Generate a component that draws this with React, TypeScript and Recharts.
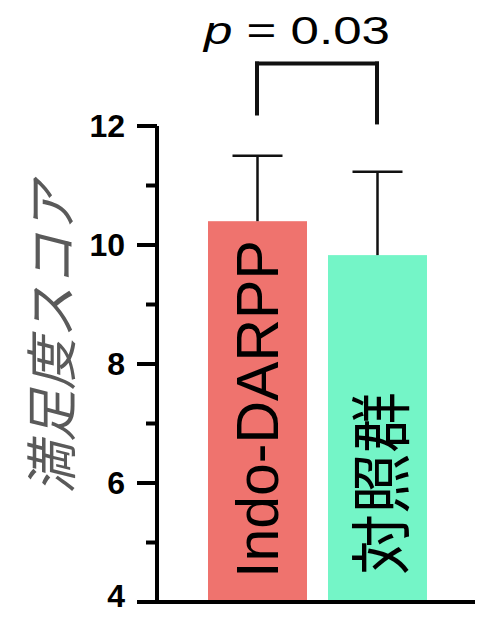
import React from "react";
import { BarChart, Bar, XAxis, YAxis, Cell, ReferenceLine } from "recharts";

// 満足度スコア (mean ± SD)
const groups = ["Indo-DARPP", "対照群"];
const means = [10.4, 9.83];
const sds = [1.1, 1.4];
const barColors = ["#EF736E", "#74F5C7"];

const yTicks = [4, 5, 6, 7, 8, 9, 10, 11, 12];
const majorTicks = [4, 6, 8, 10, 12];
const Y_MIN = 4;
const Y_MAX = 12;

// bracket over the two bars
const bracketTop = 13.05;
const bracketLegs = [12.21, 12.06];
const pLabel = "0.03";

const data = groups.map((name, i) => ({ name, mean: means[i], sd: sds[i] }));

const TICK_SIZE = 20;
const TICK_MARGIN = 10;

const AxisTick = (props: any) => {
  const { x, y, payload } = props;
  const major = majorTicks.includes(payload.value);
  const axisX = x + TICK_MARGIN + TICK_SIZE;
  // bottom label sits a little higher so it stays inside the frame
  const labelY = payload.value === Y_MIN ? y - 6 : y;
  return (
    <g>
      <line
        x1={major ? axisX - TICK_SIZE : axisX - 11}
        x2={axisX}
        y1={y}
        y2={y}
        stroke="#000"
        strokeWidth={4}
      />
      {major && (
        <text
          x={x - 2}
          y={labelY}
          textAnchor="end"
          dominantBaseline="central"
          fontFamily="Liberation Sans, Arial, sans-serif"
          fontWeight="bold"
          fontSize={32}
          fill="#000"
        >
          {payload.value}
        </text>
      )}
    </g>
  );
};

const BarWithError = (props: any) => {
  const { x, y, width, height, fill, payload, index } = props;
  const unit = height / (payload.mean - Y_MIN);
  const top = y - payload.sd * unit;
  const cx = x + width / 2;
  const bottom = y + height;
  const isLatin = index === 0;
  const ty = bottom - (isLatin ? 24 : 27);
  return (
    <g>
      <rect x={x} y={y} width={width} height={height} fill={fill} />
      <line x1={cx} x2={cx} y1={y} y2={top} stroke="#111" strokeWidth={2.5} />
      <line x1={cx - 25} x2={cx + 25} y1={top} y2={top} stroke="#111" strokeWidth={2.5} />
      <text
        x={cx}
        y={ty}
        transform={`rotate(-90 ${cx} ${ty})`}
        textAnchor="start"
        dominantBaseline="central"
        fontFamily={isLatin ? "Liberation Sans, Arial, sans-serif" : "Noto Sans CJK JP, sans-serif"}
        fontSize={isLatin ? 59 : 61}
        fill="#000"
      >
        {payload.name}
      </text>
    </g>
  );
};

const YLabel = (props: any) => {
  const { viewBox } = props;
  const cx = viewBox.x + 48;
  const cy = viewBox.y + viewBox.height / 2 - 26;
  return (
    <text
      x={cx}
      y={cy}
      transform={`rotate(-90 ${cx} ${cy})`}
      textAnchor="middle"
      dominantBaseline="central"
      fontFamily="Noto Sans CJK JP, sans-serif"
      fontStyle="italic"
      fontSize={52}
      fill="#5a5a5a"
    >
      満足度スコア
    </text>
  );
};

const PValue = (props: any) => {
  const { viewBox } = props;
  const cx = viewBox.x + viewBox.width / 2 - 20;
  const y = viewBox.y - 20;
  return (
    <text
      x={cx}
      y={y}
      textAnchor="middle"
      fontFamily="Liberation Sans, Arial, sans-serif"
      fontSize={38}
      fill="#000"
      textLength={186}
      lengthAdjust="spacingAndGlyphs"
    >
      <tspan fontStyle="italic">p</tspan>
      {` = ${pLabel}`}
    </text>
  );
};

export default function App() {
  return (
    <div style={{ position: "absolute", left: 0, top: 0, background: "#fff" }}>
      <BarChart
        width={489}
        height={617}
        data={data}
        margin={{ top: 126, right: 14, bottom: 13, left: 0 }}
        barSize={99}
      >
        <XAxis
          dataKey="name"
          tick={false}
          tickLine={false}
          height={2}
          axisLine={{ stroke: "#000", strokeWidth: 4 }}
          padding={{ left: 40, right: 38 }}
        />
        <YAxis
          width={157}
          domain={[Y_MIN, Y_MAX]}
          ticks={yTicks}
          interval={0}
          tickSize={TICK_SIZE}
          tickMargin={TICK_MARGIN}
          tickLine={false}
          tick={<AxisTick />}
          axisLine={{ stroke: "#000", strokeWidth: 4 }}
          label={<YLabel />}
        />
        <Bar dataKey="mean" isAnimationActive={false} shape={<BarWithError />}>
          {data.map((d, i) => (
            <Cell key={d.name} fill={barColors[i]} />
          ))}
        </Bar>
        <ReferenceLine
          ifOverflow="visible"
          segment={[
            { x: groups[0], y: bracketTop },
            { x: groups[1], y: bracketTop },
          ]}
          stroke="#111"
          strokeWidth={4}
          strokeLinecap="square"
          label={<PValue />}
        />
        {groups.map((g, i) => (
          <ReferenceLine
            key={g}
            ifOverflow="visible"
            segment={[
              { x: g, y: bracketTop },
              { x: g, y: bracketLegs[i] },
            ]}
            stroke="#111"
            strokeWidth={4}
            strokeLinecap="square"
          />
        ))}
      </BarChart>
    </div>
  );
}
